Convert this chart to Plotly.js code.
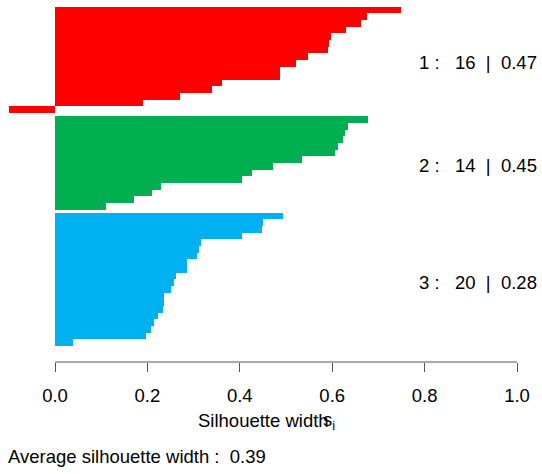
<!DOCTYPE html>
<html>
<head>
<meta charset="utf-8">
<script src="https://cdn.plot.ly/plotly-3.0.1.min.js"></script>
<style>html,body{margin:0;padding:0;background:#fff;}#chart{width:542px;height:474px;}</style>
</head>
<body>
<div id="chart"></div>
<script>
// Silhouette widths per cluster (sorted decreasing within cluster)
const cluster1 = [0.749, 0.675, 0.662, 0.629, 0.597, 0.593, 0.591, 0.547, 0.521, 0.488, 0.486, 0.361, 0.339, 0.270, 0.190, -0.100];
const cluster2 = [0.677, 0.634, 0.627, 0.623, 0.612, 0.607, 0.534, 0.471, 0.426, 0.404, 0.229, 0.211, 0.170, 0.110];
const cluster3 = [0.493, 0.450, 0.447, 0.404, 0.315, 0.311, 0.307, 0.285, 0.285, 0.261, 0.257, 0.252, 0.237, 0.237, 0.233, 0.224, 0.214, 0.207, 0.198, 0.038];
const clusterNames = ["1", "2", "3"];
const clusterSizes = [16, 14, 20];
const clusterAvg = ["0.47", "0.45", "0.28"];
const avgWidth = "0.39";
const tickVals = [0, 0.2, 0.4, 0.6, 0.8, 1.0];
const tickText = ["0.0", "0.2", "0.4", "0.6", "0.8", "1.0"];
const colors = ["#FF0000", "#00AF50", "#00B0F0"];

const clusters = [cluster1, cluster2, cluster3];
const FONT = "Liberation Sans, Arial, Helvetica, sans-serif";
const FS = 18.5;
const NB = "\u00a0";

const traces = [];
const annotations = [];
let start = 0;
clusters.forEach((vals, k) => {
  const ys = vals.map((v, i) => start + i + 0.5);
  traces.push({
    type: "bar", orientation: "h",
    x: vals, y: ys, width: 1,
    marker: {color: colors[k], line: {width: 0}},
    hoverinfo: "x", showlegend: false
  });
  annotations.push({
    x: 0.7835, xref: "x", xanchor: "left",
    y: start + vals.length / 2, yref: "y", yanchor: "middle", yshift: -3,
    text: clusterNames[k] + NB + ":" + NB + NB + NB + clusterSizes[k] + NB + NB + "|" + NB + NB + clusterAvg[k],
    showarrow: false, font: {family: FONT, size: FS, color: "#000"}
  });
  start += vals.length + 0.5;
});

// axis title (R draws the subscript s_i overlapping the end of "width")
annotations.push({
  x: 0.3056, xref: "x", xanchor: "left",
  y: -0.162, yref: "paper", yanchor: "middle",
  text: "Silhouette width", showarrow: false,
  font: {family: FONT, size: FS, color: "#000"}
});
annotations.push({
  x: 0.576, xref: "x", xanchor: "left",
  y: -0.162, yref: "paper", yanchor: "middle",
  text: "s<sub>i</sub>", showarrow: false,
  font: {family: FONT, size: FS, color: "#000"}
});
annotations.push({
  x: 6 / 542, xref: "paper", xanchor: "left",
  y: -0.262, yref: "paper", yanchor: "middle",
  text: "Average silhouette width :" + NB + NB + avgWidth, showarrow: false,
  font: {family: FONT, size: FS, color: "#000"}
});

const unitPx = 6.65, topPx = 6.67, plotBottom = 362;
const layout = {
  width: 542, height: 474,
  margin: {l: 0, r: 0, t: 0, b: 474 - plotBottom, pad: 0},
  paper_bgcolor: "#fff", plot_bgcolor: "#fff",
  bargap: 0,
  xaxis: {
    range: [-55 / 462, (542 - 55) / 462],
    tickvals: tickVals, ticktext: tickText,
    ticks: "outside", ticklen: 9, tickwidth: 1, tickcolor: "#555",
    ticklabelstandoff: 8,
    showgrid: false, zeroline: false, showline: false,
    tickfont: {family: FONT, size: FS, color: "#000"}
  },
  yaxis: {
    range: [(plotBottom - topPx) / unitPx, -topPx / unitPx],
    showticklabels: false, showgrid: false, zeroline: false, showline: false, ticks: ""
  },
  shapes: [{
    type: "line", xref: "x", yref: "paper",
    x0: tickVals[0], x1: tickVals[tickVals.length - 1], y0: 0, y1: 0,
    line: {color: "#555", width: 1}
  }],
  annotations: annotations
};

Plotly.newPlot("chart", traces, layout, {staticPlot: true, displayModeBar: false});
</script>
</body>
</html>
